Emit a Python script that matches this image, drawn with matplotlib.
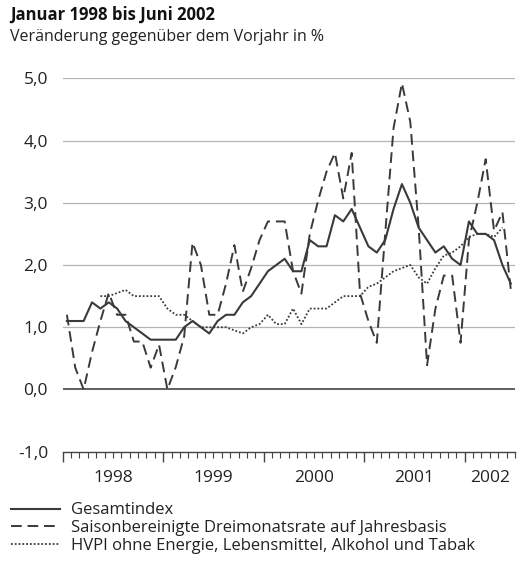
import numpy as np
import matplotlib
matplotlib.use("Agg")
import matplotlib.pyplot as plt

plt.rcParams['font.family'] = ['Open Sans', 'DejaVu Sans']

# ---- data (monthly, Jan 1998 - Jun 2002) ----
years = ["1998", "1999", "2000", "2001", "2002"]
gesamt = [1.1, 1.1, 1.1, 1.4, 1.3, 1.4, 1.3, 1.1, 1.0, 0.9, 0.8, 0.8,
          0.8, 0.8, 1.0, 1.1, 1.0, 0.9, 1.1, 1.2, 1.2, 1.4, 1.5, 1.7,
          1.9, 2.0, 2.1, 1.9, 1.9, 2.4, 2.3, 2.3, 2.8, 2.7, 2.9, 2.6,
          2.3, 2.2, 2.4, 2.9, 3.3, 3.0, 2.6, 2.4, 2.2, 2.3, 2.1, 2.0,
          2.7, 2.5, 2.5, 2.4, 2.0, 1.7]
dreimonat = [1.2, 0.35, 0.0, 0.6, 1.1, 1.55, 1.2, 1.2, 0.77, 0.77, 0.35, 0.72,
             0.0, 0.36, 0.85, 2.36, 2.0, 1.2, 1.2, 1.7, 2.32, 1.57, 1.95, 2.4,
             2.7, 2.7, 2.7, 1.9, 1.54, 2.5, 3.04, 3.5, 3.8, 3.07, 3.8, 1.54,
             1.1, 0.75, 2.5, 4.2, 4.92, 4.3, 2.6, 0.39, 1.3, 1.83, 1.83, 0.75,
             2.4, 3.0, 3.7, 2.55, 2.85, 1.6]
kern = [np.nan, np.nan, np.nan, np.nan, 1.5, 1.5, 1.55, 1.6, 1.5, 1.5, 1.5, 1.5,
        1.3, 1.2, 1.2, 1.1, 1.0, 1.0, 1.0, 1.0, 0.95, 0.9, 1.0, 1.05,
        1.2, 1.05, 1.05, 1.3, 1.05, 1.3, 1.3, 1.3, 1.4, 1.5, 1.5, 1.5,
        1.65, 1.7, 1.8, 1.9, 1.95, 2.0, 1.8, 1.7, 1.95, 2.15, 2.2, 2.3,
        2.45, 2.5, 2.5, 2.45, 2.6, np.nan]
yticks = [-1.0, 0.0, 1.0, 2.0, 3.0, 4.0, 5.0]
ytick_labels = ["-1,0", "0,0", "1,0", "2,0", "3,0", "4,0", "5,0"]
labels = ["Gesamtindex",
          "Saisonbereinigte Dreimonatsrate auf Jahresbasis",
          "HVPI ohne Energie, Lebensmittel, Alkohol und Tabak"]

n = len(gesamt)
x = np.arange(n) + 0.5
col = "#3a3a3a"
txt = "#222222"

fig = plt.figure(figsize=(5.21, 5.69), dpi=100)
ax = fig.add_axes([62.7/521, 1-451.7/569, (515-62.7)/521, (451.7-78.3)/569])

for v in yticks[2:]:
    ax.axhline(v, color="#b4b4b4", lw=0.9, zorder=1)
ax.axhline(0, color="#444444", lw=1.2, zorder=1)

l1, = ax.plot(x, gesamt, color=col, lw=1.5, zorder=4)
l2, = ax.plot(x, dreimonat, color=col, lw=1.4, linestyle=(0, (5.5, 3)), zorder=3)
l3, = ax.plot(x, kern, color=col, lw=1.3, linestyle=(0, (1, 1.1)), zorder=3)

ax.set_xlim(0, n)
ax.set_ylim(-1.0, 5.0)
for s in ["top", "right", "left"]:
    ax.spines[s].set_visible(False)
ax.spines["bottom"].set_color("#444444")
ax.spines["bottom"].set_linewidth(1.0)

ax.set_yticks(yticks)
ax.set_yticklabels(ytick_labels)
ax.tick_params(axis="y", length=0, pad=10.5, labelsize=12.5, colors=txt)

# month ticks (minor) and year ticks (major)
ax.set_xticks(np.arange(0, n + 1, 12))
ax.set_xticklabels([])
ax.set_xticks(np.arange(0, n + 1, 1), minor=True)
ax.tick_params(axis="x", which="major", direction="out", length=7, width=1.0, color="#444444")
ax.tick_params(axis="x", which="minor", direction="out", length=4.5, width=0.8, color="#444444")
for k, yr in enumerate(years):
    start = 12 * k
    end = min(12 * (k + 1), n)
    ax.annotate(yr, xy=((start + end) / 2, 0), xycoords=("data", "axes fraction"),
                xytext=(0, -13), textcoords="offset points",
                ha="center", va="top", fontsize=12.5, color=txt)

fig.text(10/521, 1-15/569, "Januar 1998 bis Juni 2002", fontsize=12, fontweight="bold",
         ha="left", va="center", color="#111111")
fig.text(10/521, 1-37/569, "Veränderung gegenüber dem Vorjahr in %", fontsize=11.5,
         ha="left", va="center", color=txt)

leg = fig.legend([l1, l2, l3], labels, loc="upper left",
                 bbox_to_anchor=(8/521, 1-499/569), frameon=False,
                 fontsize=12, handlelength=2.9, handletextpad=0.7,
                 labelspacing=0.1, borderaxespad=0, borderpad=0.2)
for t in leg.get_texts():
    t.set_color(txt)

fig.savefig("out.png", dpi=100)
